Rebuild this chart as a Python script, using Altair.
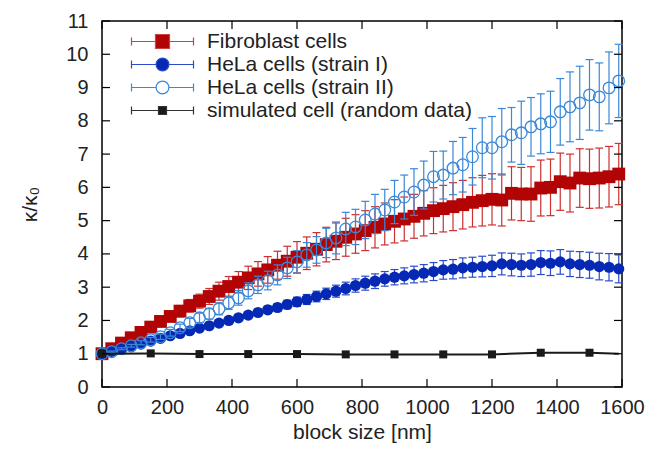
import altair as alt
import pandas as pd

# ---------------- data ----------------
x_nm = [0, 30, 60, 90, 120, 150, 180, 210, 240, 270, 300, 330, 360, 390, 420, 450, 480, 510,
        540, 570, 600, 630, 660, 690, 720, 750, 780, 810, 840, 870, 900, 930, 960, 990, 1020,
        1050, 1080, 1110, 1140, 1170, 1200, 1230, 1260, 1290, 1320, 1350, 1380, 1410, 1440,
        1470, 1500, 1530, 1560, 1590]

fib_y = [1.00, 1.15, 1.32, 1.48, 1.64, 1.80, 1.97, 2.12, 2.28, 2.44, 2.58, 2.72, 2.88, 3.02,
         3.15, 3.28, 3.40, 3.52, 3.66, 3.78, 3.90, 4.02, 4.14, 4.28, 4.38, 4.50, 4.60, 4.70,
         4.80, 4.90, 4.98, 5.05, 5.13, 5.22, 5.30, 5.36, 5.42, 5.48, 5.55, 5.60, 5.64, 5.62,
         5.82, 5.80, 5.80, 5.98, 6.00, 6.17, 6.13, 6.28, 6.26, 6.28, 6.32, 6.40]
fib_err = [0.00, 0.03, 0.05, 0.07, 0.09, 0.11, 0.13, 0.15, 0.17, 0.19, 0.21, 0.24, 0.27, 0.30,
           0.32, 0.35, 0.37, 0.40, 0.42, 0.45, 0.47, 0.49, 0.50, 0.52, 0.55, 0.57, 0.58, 0.60,
           0.62, 0.63, 0.65, 0.66, 0.66, 0.68, 0.69, 0.70, 0.72, 0.73, 0.74, 0.76, 0.77, 0.78,
           0.80, 0.80, 0.82, 0.84, 0.85, 0.86, 0.87, 0.88, 0.89, 0.90, 0.91, 0.92]

hela1_y = [1.00, 1.07, 1.14, 1.21, 1.29, 1.38, 1.46, 1.54, 1.61, 1.69, 1.77, 1.84, 1.92, 2.00,
           2.08, 2.16, 2.24, 2.32, 2.39, 2.48, 2.56, 2.63, 2.72, 2.80, 2.88, 2.96, 3.05, 3.12,
           3.18, 3.25, 3.30, 3.34, 3.38, 3.42, 3.47, 3.52, 3.54, 3.58, 3.60, 3.62, 3.64, 3.70,
           3.68, 3.66, 3.68, 3.74, 3.72, 3.76, 3.70, 3.68, 3.66, 3.62, 3.60, 3.55]
hela1_err = [0.00, 0.01, 0.02, 0.02, 0.03, 0.03, 0.04, 0.04, 0.05, 0.06, 0.06, 0.07, 0.08, 0.08,
             0.09, 0.10, 0.10, 0.11, 0.12, 0.13, 0.14, 0.15, 0.16, 0.17, 0.18, 0.19, 0.20, 0.21,
             0.22, 0.22, 0.23, 0.24, 0.25, 0.26, 0.27, 0.28, 0.29, 0.30, 0.30, 0.31, 0.32, 0.33,
             0.34, 0.34, 0.35, 0.36, 0.37, 0.37, 0.38, 0.39, 0.39, 0.40, 0.41, 0.42]

hela2_y = [1.00, 1.06, 1.15, 1.24, 1.33, 1.42, 1.51, 1.63, 1.78, 1.93, 2.08, 2.20, 2.35, 2.53,
           2.68, 2.89, 3.07, 3.20, 3.37, 3.58, 3.76, 3.97, 4.12, 4.33, 4.48, 4.75, 4.81, 5.02,
           5.20, 5.32, 5.56, 5.71, 5.86, 6.07, 6.32, 6.37, 6.58, 6.68, 6.92, 7.19, 7.19, 7.37,
           7.58, 7.64, 7.82, 7.91, 7.97, 8.27, 8.42, 8.54, 8.78, 8.72, 8.99, 9.20]
hela2_err = [0.00, 0.02, 0.03, 0.04, 0.06, 0.07, 0.08, 0.10, 0.11, 0.13, 0.14, 0.16, 0.18, 0.20,
             0.22, 0.24, 0.26, 0.28, 0.30, 0.32, 0.34, 0.37, 0.40, 0.44, 0.48, 0.50, 0.53, 0.56,
             0.59, 0.62, 0.65, 0.66, 0.70, 0.72, 0.76, 0.72, 0.80, 0.82, 0.85, 0.90, 0.94, 1.00,
             0.82, 0.95, 0.88, 0.90, 0.92, 1.00, 1.05, 1.10, 1.06, 1.02, 1.08, 1.10]

sim_x = [0, 150, 300, 450, 600, 750, 900, 1050, 1200, 1350, 1500, 1590]
sim_y = [1.00, 1.01, 0.99, 0.99, 0.99, 0.98, 0.98, 0.98, 0.98, 1.03, 1.03, 1.00]

series_names = ["Fibroblast cells", "HeLa cells (strain I)", "HeLa cells (strain II)",
                "simulated cell (random data)"]
x_ticks = [0, 200, 400, 600, 800, 1000, 1200, 1400, 1600]
y_ticks = [0, 1, 2, 3, 4, 5, 6, 7, 8, 9, 10, 11]

# ---------------- style ----------------
FONT = "Liberation Sans"
W, H = 520, 366
TXT = "#222222"

xs = alt.Scale(domain=[0, 1600], nice=False, zero=False)
ys = alt.Scale(domain=[0, 11], nice=False, zero=False)

x_axis = alt.Axis(values=x_ticks, format="d", ticks=False, tickSize=0, domain=False, grid=False,
                  labelFont=FONT, labelFontSize=20, labelColor=TXT, labelPadding=10,
                  labelFlush=False, labelOverlap=False,
                  title="block size [nm]", titleFont=FONT, titleFontSize=21,
                  titleFontWeight="normal", titleColor=TXT, titlePadding=4)
y_axis = alt.Axis(values=y_ticks, format="d", ticks=False, tickSize=0, domain=False, grid=False,
                  labelFont=FONT, labelFontSize=20, labelColor=TXT, labelPadding=14,
                  labelFlush=False, labelOverlap=False,
                  title="κ/κ₀", titleFont=FONT, titleFontSize=21,
                  titleFontWeight="normal", titleColor=TXT, titlePadding=25)


def X(field):
    return alt.X(field + ":Q", scale=xs, axis=x_axis, title="block size [nm]")


def Y(field):
    return alt.Y(field + ":Q", scale=ys, axis=y_axis, title="κ/κ₀")


def frame(y, err):
    return pd.DataFrame({"x": x_nm, "y": y,
                         "lo": [a - b for a, b in zip(y, err)],
                         "hi": [a + b for a, b in zip(y, err)]})


def errorbars(df, color):
    base = alt.Chart(df)
    rule = base.mark_rule(color=color, strokeWidth=1.2).encode(
        x=X("x"), y=Y("lo"), y2=alt.Y2("hi:Q"))
    cap_hi = base.mark_tick(color=color, orient="horizontal", size=8, thickness=1.2,
                            opacity=1).encode(x=X("x"), y=Y("hi"))
    cap_lo = base.mark_tick(color=color, orient="horizontal", size=8, thickness=1.2,
                            opacity=1).encode(x=X("x"), y=Y("lo"))
    return [rule, cap_hi, cap_lo]


fib = frame(fib_y, fib_err)
h1 = frame(hela1_y, hela1_err)
h2 = frame(hela2_y, hela2_err)
sim = pd.DataFrame({"x": sim_x, "y": sim_y})

RED, RED_BAR = "#b20404", "#cc3030"
BLUE, BLUE_BAR = "#0529b4", "#2a4cc8"
LBLUE = "#3a88d6"
BLACK = "#1a1a1a"

layers = []
layers += errorbars(fib, RED_BAR)
layers.append(alt.Chart(fib).mark_square(size=165, color=RED, opacity=1).encode(x=X("x"), y=Y("y")))
layers += errorbars(h1, BLUE_BAR)
layers.append(alt.Chart(h1).mark_circle(size=125, color=BLUE, opacity=1).encode(x=X("x"), y=Y("y")))
layers += errorbars(h2, LBLUE)
layers.append(alt.Chart(h2).mark_point(shape="circle", size=135, filled=False, stroke=LBLUE,
                                       strokeWidth=1.3, opacity=1).encode(x=X("x"), y=Y("y")))
layers.append(alt.Chart(sim).mark_line(color=BLACK, strokeWidth=2).encode(x=X("x"), y=Y("y")))
layers.append(alt.Chart(sim).transform_filter("datum.x <= 1500").mark_square(
    size=64, color=BLACK, opacity=1).encode(x=X("x"), y=Y("y")))

# inward ticks on all four sides (gnuplot style)
xt = pd.DataFrame({"x": x_ticks})
yt = pd.DataFrame({"y": y_ticks})
TL = 8
layers.append(alt.Chart(xt).mark_rule(color="black", strokeWidth=1.2).encode(
    x=X("x"), y=alt.value(H), y2=alt.value(H - TL)))
layers.append(alt.Chart(xt).mark_rule(color="black", strokeWidth=1.2).encode(
    x=X("x"), y=alt.value(0), y2=alt.value(TL)))
layers.append(alt.Chart(yt).mark_rule(color="black", strokeWidth=1.2).encode(
    y=Y("y"), x=alt.value(0), x2=alt.value(TL)))
layers.append(alt.Chart(yt).mark_rule(color="black", strokeWidth=1.2).encode(
    y=Y("y"), x=alt.value(W), x2=alt.value(W - TL)))

# legend: symbols drawn as error bar + marker (units of 8 px)
L = 3.875
C = 0.5


def bar_path(m):
    return (f"M{-L},0H{-m}M{m},0H{L}M{-L},{-C}V{C}M{L},{-C}V{C}")


def sq(m):
    return f"M{-m},{-m}H{m}V{m}H{-m}Z"


def circ(m):
    return f"M{m},0A{m},{m},0,1,1,{-m},0A{m},{m},0,1,1,{m},0Z"


paths = [bar_path(0.875) + sq(0.875), bar_path(0.8) + circ(0.8),
         bar_path(0.8) + circ(0.8), bar_path(0.5) + sq(0.5)]
fills = [RED, BLUE, "white", BLACK]
strokes = ["#d04040", "#2a4cc8", LBLUE, "#333333"]

leg = alt.Legend(title=None, orient="none", legendX=50, legendY=10, padding=0,
                 labelFont=FONT, labelFontSize=21, labelColor=TXT, labelOffset=34,
                 symbolSize=256, symbolStrokeWidth=1.2, rowPadding=1, labelLimit=400)
leg_df = pd.DataFrame({"series": series_names, "x": [0, 0, 0, 0], "y": [0, 0, 0, 0]})
layers.append(alt.Chart(leg_df).transform_filter("false").mark_point(opacity=1, filled=False).encode(
    x=X("x"), y=Y("y"),
    shape=alt.Shape("series:N", scale=alt.Scale(domain=series_names, range=paths), legend=leg),
    fill=alt.Fill("series:N", scale=alt.Scale(domain=series_names, range=fills), legend=leg),
    stroke=alt.Stroke("series:N", scale=alt.Scale(domain=series_names, range=strokes), legend=leg),
))

chart = alt.layer(*layers).properties(
    width=W, height=H, autosize="none",
    padding={"left": 94, "top": 13, "right": 33, "bottom": 56},
    background="white",
).configure_view(stroke="black", strokeWidth=1.5)

chart.save("out.html", embed_options={"renderer": "svg", "actions": False})
